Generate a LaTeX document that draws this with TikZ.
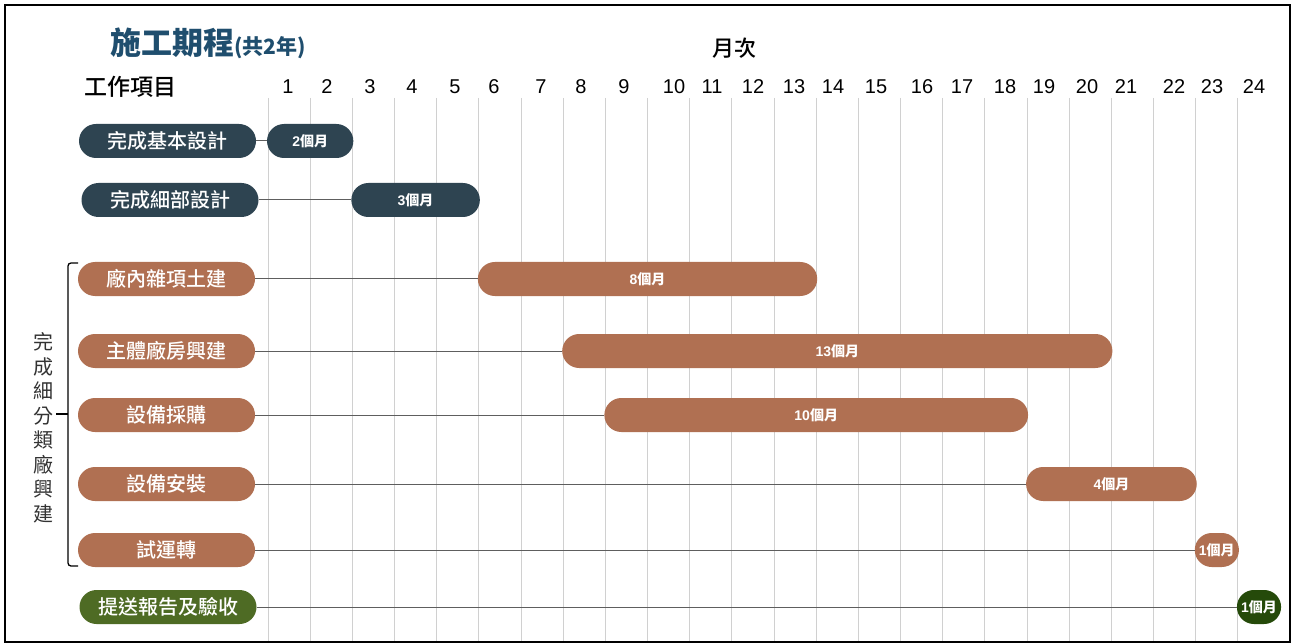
\documentclass[tikz,border=0pt]{standalone}
\usepackage{fontspec}
\setmainfont{Liberation Sans}
\newfontfamily\cjk{Noto Sans CJK TC}
\newfontfamily\cjkm{Noto Sans CJK TC Medium}
\definecolor{slate}{HTML}{2E4451}
\definecolor{brown}{HTML}{B07052}
\definecolor{leaf}{HTML}{4E6B24}
\definecolor{deepgreen}{HTML}{254A0A}
\definecolor{titleblue}{HTML}{1F4E6E}
\definecolor{gridgray}{HTML}{D0D0D0}
\definecolor{conngray}{HTML}{5E5E5E}
\tikzset{
  taskbox/.style={rounded corners=17pt, minimum height=34pt, minimum width=177pt, inner sep=0pt, text=white, font=\cjkm\fontsize{20}{20}\selectfont},
  barbox/.style={rounded corners=17pt, minimum height=34pt, inner sep=0pt, text=white, font=\cjk\bfseries\fontsize{14}{14}\selectfont},
  conn/.style={draw=conngray, line width=1pt},
  gridline/.style={draw=gridgray, line width=1pt},
  monthlabel/.style={font=\fontsize{20}{20}\selectfont, text=black, inner sep=0pt},
  headlabel/.style={font=\cjkm\fontsize{22}{22}\selectfont, text=black, inner sep=0pt}
}
\begin{document}
\begin{tikzpicture}[x=1pt,y=-1pt]
\useasboundingbox (0,0) rectangle (1295,644);
\fill[white] (0,0) rectangle (1295,644);
% grid
\foreach \i in {0,...,23} {
  \draw[gridline] ({268+42.17*\i},98) -- ({268+42.17*\i},641);
}
% month labels
\foreach \m/\x in {1/288,2/327,3/370,4/412,5/455,6/494,7/541,8/581,9/624,10/674,11/712,12/753,13/794,14/833,15/876,16/922,17/962,18/1005,19/1044,20/1087,21/1126,22/1174,23/1212,24/1254} {
  \node[monthlabel] (m\m) at (\x,87) {\m};
}
% headings
\node[anchor=west, inner sep=0pt, text=titleblue] (title) at (110,43)
  {\cjk\bfseries\fontsize{31}{31}\selectfont 施工期程{\cjkm\fontsize{21}{21}\selectfont(共2年)}};
\node[headlabel] (months) at (734,48) {月次};
\node[headlabel, anchor=west, font=\cjkm\fontsize{23}{23}\selectfont] (items) at (84,87) {工作項目};
% tasks
\node[taskbox, fill=slate] (t1) at (167.5,141) {完成基本設計};
\node[taskbox, fill=slate] (t2) at (170,200) {完成細部設計};
\node[taskbox, fill=brown] (t3) at (166.5,279) {廠內雜項土建};
\node[taskbox, fill=brown] (t4) at (166.5,351) {主體廠房興建};
\node[taskbox, fill=brown] (t5) at (166.5,415) {設備採購};
\node[taskbox, fill=brown] (t6) at (166.5,484) {設備安裝};
\node[taskbox, fill=brown] (t7) at (166.5,550) {試運轉};
\node[taskbox, fill=leaf] (t8) at (168,607) {提送報告及驗收};
% bars
\foreach \n/\a/\b/\y/\col/\txt in {1/0/2/141/slate/2,2/2/5/200/slate/3,3/5/13/279/brown/8,4/7/20/351/brown/13,5/8/18/415/brown/10,6/18/22/484/brown/4,7/22/23/550/brown/1,8/23/24/607/deepgreen/1} {
  \pgfmathsetmacro\bw{(\b-\a)*42.17+2}
  \pgfmathsetmacro\bx{268+(\a+\b)/2*42.17}
  \node[barbox, fill=\col, minimum width=\bw pt] (b\n) at (\bx,\y) {{\rmfamily\bfseries\txt}個月};
  \draw[conn] (t\n.east) -- (b\n.west);
}
% bracket
\draw[line width=1.3pt, black, rounded corners=3pt] (78,263) -- (68,263) -- (68,566) -- (78,566);
\draw[line width=1.3pt, black] (68,414) -- (56,414);
\node[align=center, inner sep=0pt, text=black!80, font=\cjk\fontsize{20}{24.5}\selectfont] (group) at (43,428)
  {完\\成\\細\\分\\類\\廠\\興\\建};
% border
\draw[line width=1.5pt, black] (5,5) rectangle (1290,642);
\end{tikzpicture}
\end{document}
